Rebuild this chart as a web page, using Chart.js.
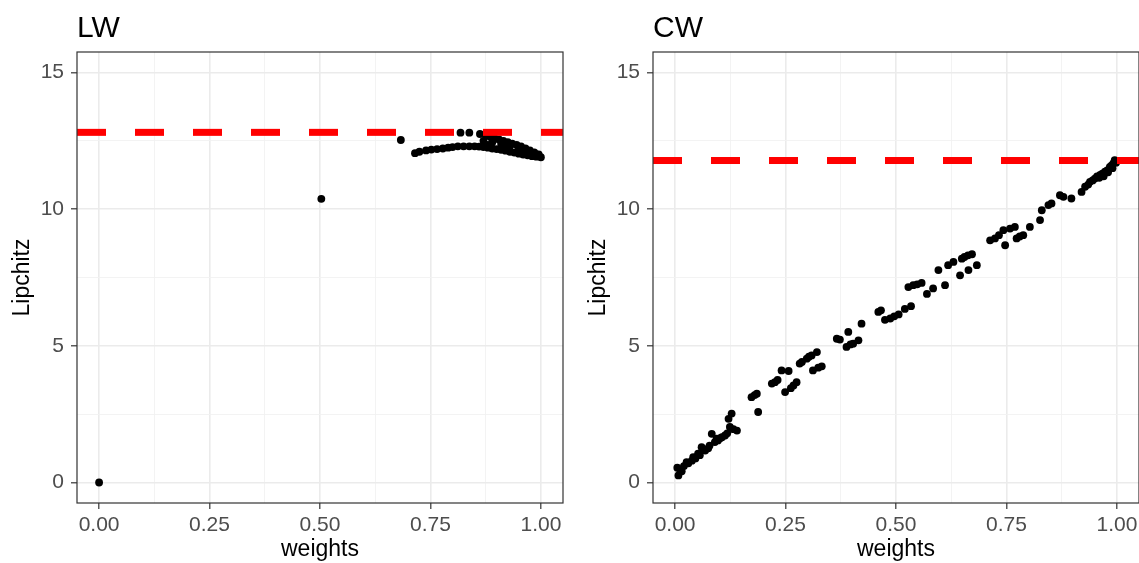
<!DOCTYPE html>
<html>
<head>
<meta charset="utf-8">
<script src="https://cdn.jsdelivr.net/npm/chart.js@4.4.1/dist/chart.umd.min.js"></script>
<style>
  html, body { margin: 0; padding: 0; background: #ffffff; }
  body { width: 1139px; height: 563px; position: relative; overflow: hidden; }
  canvas { position: absolute; top: 0; }
  #c1 { left: 0px; }
  #c2 { left: 576px; }
</style>
</head>
<body>
<canvas id="c1" width="576" height="563"></canvas>
<canvas id="c2" width="563" height="563"></canvas>
<script>
// ---------- data ----------
const panelTitles = ["LW", "CW"];
const xTitle = "weights";
const yTitle = "Lipchitz";
const xTickValues = [0, 0.125, 0.25, 0.375, 0.5, 0.625, 0.75, 0.875, 1];
const xMajorTicks = [0, 0.25, 0.5, 0.75, 1];
const yTickValues = [0, 2.5, 5, 7.5, 10, 12.5, 15];
const yMajorTicks = [0, 5, 10, 15];
const xLimits = [-0.05, 1.05];
const yLimits = [-0.75, 15.75];

const lwThreshold = 12.81;
const cwThreshold = 11.78;

const lwWeights = [0, 0.503, 0.683,
  0.715, 0.725, 0.74, 0.752, 0.765, 0.778, 0.79, 0.80, 0.812, 0.825, 0.838, 0.85, 0.86, 0.87, 0.88, 0.89, 0.9, 0.91, 0.92, 0.93, 0.94, 0.95, 0.96, 0.97, 0.98, 0.99, 1.0,
  0.818, 0.838, 0.862, 0.875, 0.885, 0.895, 0.905, 0.915, 0.925, 0.935, 0.945, 0.955, 0.965, 0.975, 0.985, 0.995,
  0.87, 0.88, 0.89, 0.91, 0.92, 0.93, 0.95, 0.96, 0.97, 0.98, 0.99, 0.995, 0.985, 0.975];
const lwLipchitz = [0, 10.38, 12.53,
  12.05, 12.1, 12.15, 12.18, 12.2, 12.22, 12.25, 12.27, 12.3, 12.3, 12.3, 12.3, 12.29, 12.27, 12.25, 12.22, 12.2, 12.17, 12.14, 12.1, 12.07, 12.03, 12.0, 11.97, 11.94, 11.92, 11.9,
  12.8, 12.8, 12.75, 12.7, 12.65, 12.6, 12.55, 12.5, 12.45, 12.4, 12.35, 12.3, 12.22, 12.15, 12.08, 12.0,
  12.5, 12.35, 12.45, 12.38, 12.25, 12.3, 12.2, 12.12, 12.1, 12.02, 12.0, 11.95, 11.98, 12.05];

const cwWeights = [0.005, 0.0075, 0.012, 0.015, 0.02, 0.026, 0.03, 0.038, 0.041, 0.046, 0.052, 0.056, 0.06, 0.064, 0.068, 0.075, 0.078, 0.083, 0.09, 0.094, 0.097, 0.102, 0.106, 0.113, 0.118, 0.121, 0.124, 0.128, 0.132, 0.14,
  0.173, 0.18, 0.185, 0.188, 0.219, 0.226, 0.232, 0.241, 0.249, 0.257, 0.262, 0.268, 0.275, 0.282, 0.287, 0.298, 0.303, 0.309, 0.312, 0.321, 0.324, 0.332,
  0.366, 0.373, 0.392, 0.388, 0.397, 0.403, 0.415, 0.422, 0.46, 0.466, 0.475, 0.487, 0.496, 0.506, 0.52, 0.528, 0.534, 0.539, 0.548, 0.558, 0.57, 0.584,
  0.596, 0.611, 0.618, 0.63, 0.645, 0.649, 0.655, 0.663, 0.664, 0.672, 0.683, 0.713, 0.724, 0.733, 0.743, 0.747, 0.758, 0.769, 0.773, 0.78, 0.788, 0.803,
  0.826, 0.83, 0.845, 0.852, 0.871, 0.879, 0.897, 0.92, 0.928, 0.935, 0.939, 0.945, 0.95, 0.955, 0.962, 0.967, 0.973, 0.978, 0.984, 0.988, 0.992, 0.995, 0.998, 0.97, 0.96, 0.98, 0.99];
const cwLipchitz = [0.54, 0.26, 0.45, 0.41, 0.6, 0.74, 0.7, 0.8, 0.93, 0.88, 1.06, 1.0, 1.29, 1.2, 1.17, 1.25, 1.35, 1.78, 1.48, 1.6, 1.54, 1.62, 1.66, 1.72, 1.8, 2.33, 2.03, 2.52, 1.95, 1.9,
  3.12, 3.2, 3.25, 2.58, 3.62, 3.67, 3.75, 4.1, 3.31, 4.08, 3.45, 3.55, 3.67, 4.35, 4.41, 4.53, 4.6, 4.65, 4.1, 4.77, 4.2, 4.25,
  5.26, 5.23, 5.51, 4.96, 5.05, 5.08, 5.2, 5.81, 6.24, 6.3, 5.95, 6.0, 6.08, 6.15, 6.35, 7.15, 6.45, 7.22, 7.25, 7.3, 6.9, 7.1,
  7.77, 7.22, 7.95, 8.07, 7.58, 8.19, 8.25, 8.31, 7.77, 8.35, 7.95, 8.86, 8.93, 9.05, 9.23, 8.68, 9.29, 9.35, 8.93, 9.0, 9.05, 9.35,
  9.6, 9.96, 10.15, 10.21, 10.51, 10.45, 10.39, 10.63, 10.82, 10.9, 11.0, 11.05, 11.12, 11.2, 11.25, 11.3, 11.37, 11.42, 11.55, 11.6, 11.67, 11.79, 11.7, 11.2, 11.15, 11.35, 11.5];

// ---------- styling helpers ----------
const FONT = "'Liberation Sans', Arial, Helvetica, sans-serif";
const isIn = (arr, v) => arr.some(m => Math.abs(m - v) < 1e-9);

const borderPlugin = {
  id: 'panelBorder',
  afterLayout(chart) {
    if (chart.titleBlock) {
      chart.titleBlock.left = chart.chartArea.left;
    }
  },
  afterDatasetsDraw(chart) {
    const {ctx, chartArea: a} = chart;
    ctx.save();
    ctx.strokeStyle = '#333333';
    ctx.lineWidth = 1.2;
    ctx.strokeRect(a.left, a.top, a.right - a.left, a.bottom - a.top);
    ctx.restore();
  }
};

function makeChart(canvasId, title, xs, ys, threshold, rightPad) {
  const points = xs.map((x, i) => ({x: x, y: ys[i]}));
  const hline = [{x: xLimits[0], y: threshold}, {x: xLimits[1], y: threshold}];
  return new Chart(document.getElementById(canvasId), {
    type: 'scatter',
    data: {
      datasets: [
        {
          type: 'line', data: hline, borderColor: '#FF0000', borderWidth: 7,
          borderDash: [29, 29], borderCapStyle: 'butt', pointRadius: 0, fill: false, order: 0
        },
        {
          data: points, backgroundColor: '#000000', borderWidth: 0,
          pointRadius: 3.9, pointHoverRadius: 3.9, order: 1
        }
      ]
    },
    options: {
      responsive: false,
      animation: false,
      devicePixelRatio: 1,
      layout: {autoPadding: false, padding: {top: 0, left: 0, right: rightPad, bottom: 0}},
      plugins: {
        legend: {display: false},
        tooltip: {enabled: false},
        title: {
          display: true, text: title, align: 'start', color: '#000000',
          font: {family: FONT, size: 30, weight: 'normal', lineHeight: 1.2},
          padding: {top: 10.8, bottom: 5.2}
        }
      },
      scales: {
        x: {
          type: 'linear', min: xLimits[0], max: xLimits[1],
          afterBuildTicks: s => { s.ticks = xTickValues.map(v => ({value: v})); },
          afterFit: s => { s.height = 60; s.paddingLeft = 0; s.paddingRight = 0; },
          grid: {
            color: c => c.tick && isIn(xMajorTicks, c.tick.value) ? '#EBEBEB' : '#F2F2F2',
            lineWidth: c => c.tick && isIn(xMajorTicks, c.tick.value) ? 1.6 : 0.9,
            tickColor: c => c.tick && isIn(xMajorTicks, c.tick.value) ? '#333333' : 'rgba(0,0,0,0)',
            tickWidth: 1.2, tickLength: 6, drawTicks: true
          },
          border: {display: false},
          ticks: {
            autoSkip: false, maxRotation: 0, minRotation: 0, padding: 4, color: '#4D4D4D',
            font: {family: FONT, size: 21},
            callback: v => isIn(xMajorTicks, v) ? v.toFixed(2) : ''
          },
          title: {
            display: true, text: xTitle, color: '#000000',
            font: {family: FONT, size: 23, lineHeight: 1.2},
            padding: {top: 0, bottom: 0}
          }
        },
        y: {
          type: 'linear', min: yLimits[0], max: yLimits[1],
          afterBuildTicks: s => { s.ticks = yTickValues.map(v => ({value: v})); },
          afterFit: s => { s.width = 77; s.paddingTop = 0; s.paddingBottom = 0; },
          grid: {
            color: c => c.tick && isIn(yMajorTicks, c.tick.value) ? '#EBEBEB' : '#F2F2F2',
            lineWidth: c => c.tick && isIn(yMajorTicks, c.tick.value) ? 1.6 : 0.9,
            tickColor: c => c.tick && isIn(yMajorTicks, c.tick.value) ? '#333333' : 'rgba(0,0,0,0)',
            tickWidth: 1.2, tickLength: 6, drawTicks: true
          },
          border: {display: false},
          ticks: {
            autoSkip: false, padding: 7, color: '#4D4D4D',
            font: {family: FONT, size: 21},
            callback: v => isIn(yMajorTicks, v) ? String(v) : ''
          },
          title: {
            display: true, text: yTitle, color: '#000000',
            font: {family: FONT, size: 23, lineHeight: 1.2},
            padding: {top: 9, bottom: 0}
          }
        }
      }
    },
    plugins: [borderPlugin]
  });
}

makeChart('c1', panelTitles[0], lwWeights, lwLipchitz, lwThreshold, 13);
makeChart('c2', panelTitles[1], cwWeights, cwLipchitz, cwThreshold, 0);
</script>
</body>
</html>
